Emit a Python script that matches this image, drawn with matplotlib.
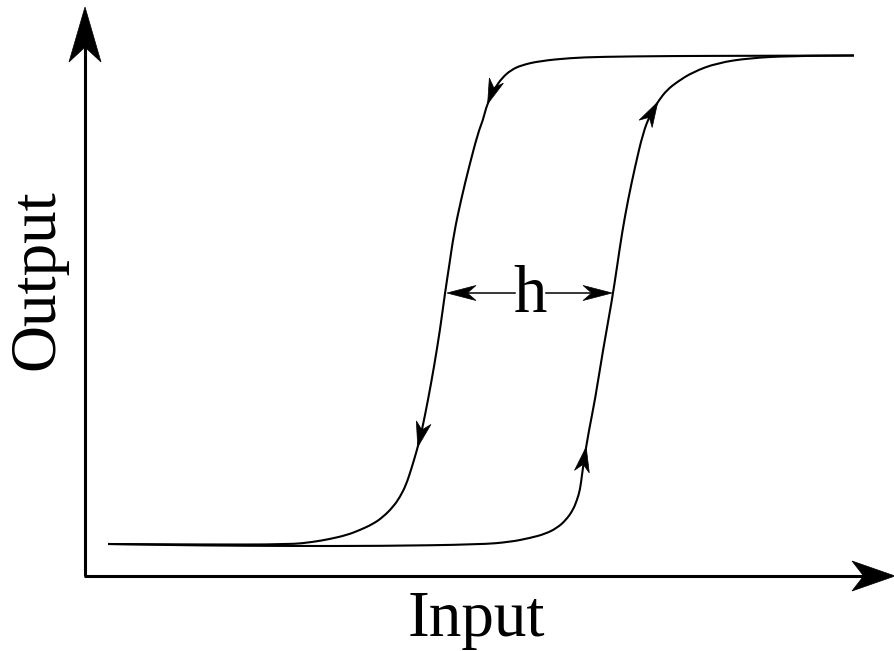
import numpy as np
import matplotlib.pyplot as plt
from matplotlib.patches import Polygon, PathPatch
from matplotlib.path import Path

# Hysteresis loop, points (x = input, y = output, pixel units)
down_x = [854, 750, 670, 600, 570, 540, 522, 511, 502, 495, 490, 486, 483, 478,
          469, 461, 454, 449, 445, 440, 434, 428, 422, 417, 411, 406, 400, 393,
          383, 373, 360, 347, 330, 313, 290, 200, 108]
down_y = [55.5, 55.8, 56, 56.8, 58, 61, 65, 70, 78, 88, 98, 108, 120, 133,
          167, 200, 233, 267, 293, 330, 367, 400, 430, 450, 470, 485, 497, 507,
          517, 524, 530, 535, 539, 542, 544.5, 544.5, 544]

up_x = [108, 200, 290, 380, 480, 510, 530, 545, 557, 566, 573, 577, 580, 582,
        584, 589, 595, 603, 612, 617, 622, 628, 635, 643, 650, 659, 667, 677,
        693, 717, 750, 790, 854]
up_y = [544, 545.5, 546, 546, 544.5, 542, 538, 534, 528, 520, 510, 500, 490, 475,
        460, 430, 400, 350, 300, 267, 233, 200, 167, 133, 115, 100, 90, 82,
        72, 63, 58, 56, 55.5]

h_level = 293


def smooth_line(ax, xs, ys, lw):
    # quadratic bezier through the midpoints, the read points act as control points
    p = np.column_stack([xs, ys]).astype(float)
    verts = [p[0], (p[0] + p[1]) / 2]
    codes = [Path.MOVETO, Path.LINETO]
    for i in range(1, len(p) - 1):
        verts += [p[i], (p[i] + p[i + 1]) / 2]
        codes += [Path.CURVE3, Path.CURVE3]
    verts.append(p[-1])
    codes.append(Path.LINETO)
    ax.add_patch(PathPatch(Path(verts, codes), fc='none', ec='black', lw=lw,
                           capstyle='butt'))


def head(ax, tip, d, length, width, notch=0.7):
    # concave arrow head with its point at tip, pointing along d
    tip = np.asarray(tip, float)
    d = np.asarray(d, float)
    d = d / np.hypot(*d)
    n = np.array([-d[1], d[0]])
    back = tip - d * length
    pts = [tip, back + n * width / 2, tip - d * length * notch, back - n * width / 2]
    ax.add_patch(Polygon(pts, closed=True, fc='black', ec='black', lw=0.5, zorder=5))


def head_on_curve(ax, xs, ys, y_tip, length=25, width=15):
    for i in range(len(ys) - 1):
        lo, hi = sorted((ys[i], ys[i + 1]))
        if lo <= y_tip <= hi and ys[i] != ys[i + 1]:
            t = (y_tip - ys[i]) / (ys[i + 1] - ys[i])
            p = np.array([xs[i] + t * (xs[i + 1] - xs[i]), y_tip])
            # direction taken over a couple of neighbours
            j0, j1 = max(i - 1, 0), min(i + 2, len(xs) - 1)
            d = np.array([xs[j1] - xs[j0], ys[j1] - ys[j0]], float)
            head(ax, p, d, length, width)
            return p


def x_at(xs, ys, y):
    for i in range(len(ys) - 1):
        lo, hi = sorted((ys[i], ys[i + 1]))
        if lo <= y <= hi and ys[i] != ys[i + 1]:
            t = (y - ys[i]) / (ys[i + 1] - ys[i])
            return xs[i] + t * (xs[i + 1] - xs[i])


fig = plt.figure(figsize=(8.94, 6.51), dpi=100)
ax = fig.add_axes([0, 0, 1, 1])
ax.set_xlim(0, 894)
ax.set_ylim(651, 0)
ax.axis('off')

# axes with arrows
ax.plot([85, 85], [576, 40], color='black', lw=2.2, solid_capstyle='butt')
ax.plot([84, 870], [576, 576], color='black', lw=2.2, solid_capstyle='butt')
head(ax, (85, 7), (0, -1), 55, 32, notch=0.73)
head(ax, (895, 576), (1, 0), 43, 30, notch=0.73)

# the two branches
smooth_line(ax, down_x, down_y, 1.5)
smooth_line(ax, up_x, up_y, 1.5)

head_on_curve(ax, down_x, down_y, 104)
head_on_curve(ax, down_x, down_y, 447)
head_on_curve(ax, up_x, up_y, 447)
head_on_curve(ax, up_x, up_y, 102)

# width of the loop
xl = x_at(down_x, down_y, h_level) + 2
xr = x_at(up_x, up_y, h_level) - 1
xm = (xl + xr) / 2
ax.plot([xl + 10, xm - 15], [h_level, h_level], color='black', lw=1.1)
ax.plot([xm + 16, xr - 10], [h_level, h_level], color='black', lw=1.1)
head(ax, (xl, h_level), (-1, 0), 29, 15)
head(ax, (xr, h_level), (1, 0), 29, 15)
ax.text(xm, h_level + 2, 'h', family='Liberation Serif', fontsize=48,
        ha='center', va='center')

ax.text(476, 620, 'Input', family='Liberation Serif', fontsize=47,
        ha='center', va='center')
ax.text(38, 280, 'Output', family='Liberation Serif', fontsize=47,
        ha='center', va='center', rotation=90)

plt.savefig('out.png', dpi=100)
